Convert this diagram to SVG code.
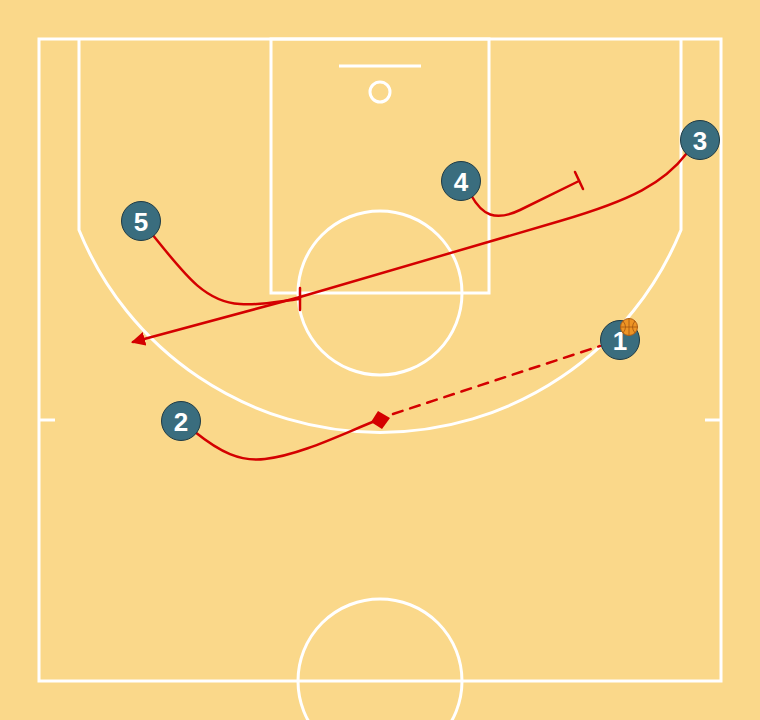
<svg xmlns="http://www.w3.org/2000/svg" width="760" height="720" viewBox="0 0 760 720">
<style>
.court{fill:none;stroke:#ffffff;stroke-width:3}
.mv{fill:none;stroke:#d40000;stroke-width:2.5;stroke-linecap:round}
.pl circle{fill:#3a6d7e;stroke:#1e3a44;stroke-width:1}
.pl text{fill:#ffffff;font-family:"Liberation Sans",Arial,sans-serif;font-weight:bold;font-size:26px;text-anchor:middle}
</style>
<defs>
<marker id="arrow" viewBox="0 0 14 14" refX="12" refY="7" markerWidth="14" markerHeight="14" markerUnits="userSpaceOnUse" orient="auto">
<path d="M0,0 L14,7 L0,14 Z" fill="#d40000"/>
</marker>
</defs>
<rect x="0" y="0" width="760" height="720" fill="#FAD88A"/>
<g id="court">
<rect class="court" x="39" y="39" width="682" height="642"/>
<rect class="court" x="271" y="39" width="218" height="254"/>
<circle class="court" cx="380" cy="293" r="82"/>
<line class="court" x1="339" y1="66" x2="421" y2="66" stroke-width="2"/>
<circle class="court" cx="380" cy="92" r="10"/>
<path class="court" d="M79,39 L79,230 A325,325 0 0 0 681,230 L681,39"/>
<line class="court" x1="39" y1="420" x2="55" y2="420"/>
<line class="court" x1="705" y1="420" x2="721" y2="420"/>
<circle class="court" cx="380" cy="681" r="82"/>
</g>
<g id="connectors">
<path class="mv" d="M687,153 C664,183 632,200 560,221 L300,297 L133,342" marker-end="url(#arrow)"/>
<path class="mv" d="M152,234 C185,275 205,302 240,304 C260,306 280,301 300,299"/>
<line class="mv" x1="300" y1="288" x2="300" y2="310"/>
<path class="mv" d="M471,195 C482,215 495,222 520,210 L579,181"/>
<line class="mv" x1="575" y1="172" x2="583" y2="189"/>
<path class="mv" d="M195,432 C220,452 240,462 265,459 C300,455 340,435 375,421"/>
<polygon points="378,411 390,418 382,429 371,422" fill="#d40000"/>
<line class="mv" x1="393" y1="414" x2="600" y2="346" stroke-dasharray="10 8" stroke-linecap="butt"/>
</g>
<g id="p1" class="pl"><circle cx="620" cy="340" r="19.5"/><text x="620" y="350">1</text></g>
<g id="ball">
<circle cx="629" cy="327" r="8.5" fill="#ee9424" stroke="#b35f14" stroke-width="1"/>
<path d="M620.5,327 H637.5 M629,318.5 V335.5 M623,321 Q628,327 623,333 M635,321 Q630,327 635,333" fill="none" stroke="#a3550f" stroke-width="0.8"/>
</g>
<g id="p2" class="pl"><circle cx="181" cy="421" r="19.5"/><text x="181" y="431">2</text></g>
<g id="p3" class="pl"><circle cx="700" cy="140" r="19.5"/><text x="700" y="150">3</text></g>
<g id="p4" class="pl"><circle cx="461" cy="181" r="19.5"/><text x="461" y="191">4</text></g>
<g id="p5" class="pl"><circle cx="141" cy="221" r="19.5"/><text x="141" y="231">5</text></g>
</svg>
